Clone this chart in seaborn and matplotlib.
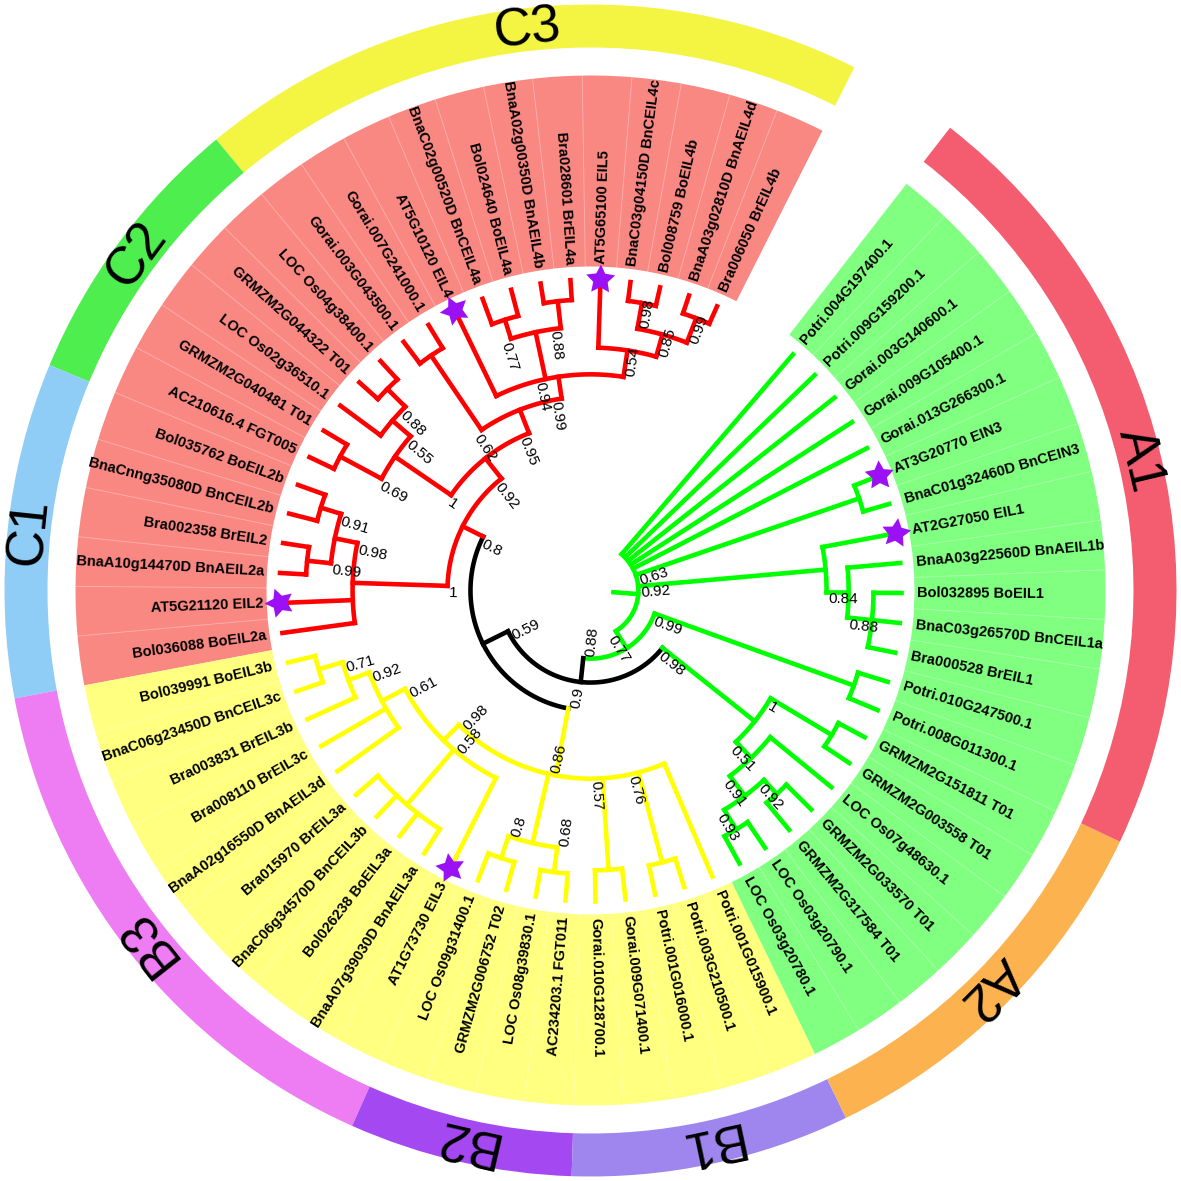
import numpy as np
import pandas as pd
import matplotlib
matplotlib.use("Agg")
import matplotlib.pyplot as plt
from matplotlib.patches import Wedge
import seaborn as sns

# ---------------- data ----------------
leaf_names = [
    "Bra006050 BrEIL4b", "BnaA03g02810D BnAEIL4d", "Bol008759 BoEIL4b", "BnaC03g04150D BnCEIL4c",
    "AT5G65100 EIL5", "Bra028601 BrEIL4a", "BnaA02g00350D BnAEIL4b", "Bol024640 BoEIL4a",
    "BnaC02g00520D BnCEIL4a", "AT5G10120 EIL4", "Gorai.007G241000.1", "Gorai.003G043500.1",
    "LOC Os04g38400.1", "GRMZM2G044322 T01", "LOC Os02g36510.1", "GRMZM2G040481 T01",
    "AC210616.4 FGT005", "Bol035762 BoEIL2b", "BnaCnng35080D BnCEIL2b", "Bra002358 BrEIL2",
    "BnaA10g14470D BnAEIL2a", "AT5G21120 EIL2", "Bol036088 BoEIL2a",
    "Bol039991 BoEIL3b", "BnaC06g23450D BnCEIL3c", "Bra003831 BrEIL3b", "Bra008110 BrEIL3c",
    "BnaA02g16550D BnAEIL3d", "Bra015970 BrEIL3a", "BnaC06g34570D BnCEIL3b", "Bol026238 BoEIL3a",
    "BnaA07g39030D BnAEIL3a", "AT1G73730 EIL3", "LOC Os09g31400.1", "GRMZM2G006752 T02",
    "LOC Os08g39830.1", "AC234203.1 FGT011", "Gorai.010G128700.1", "Gorai.009G071400.1",
    "Potri.001G016000.1", "Potri.003G210500.1", "Potri.001G015900.1",
    "LOC Os03g20780.1", "LOC Os03g20790.1", "GRMZM2G317584 T01", "GRMZM2G033570 T01",
    "LOC Os07g48630.1", "GRMZM2G003558 T01", "GRMZM2G151811 T01", "Potri.008G011300.1",
    "Potri.010G247500.1", "Bra000528 BrEIL1", "BnaC03g26570D BnCEIL1a", "Bol032895 BoEIL1",
    "BnaA03g22560D BnAEIL1b", "AT2G27050 EIL1", "BnaC01g32460D BnCEIN3", "AT3G20770 EIN3",
    "Gorai.013G266300.1", "Gorai.009G105400.1", "Gorai.003G140600.1", "Potri.009G159200.1",
    "Potri.004G197400.1",
]
# internal node that each leaf hangs from
leaf_parent = [10, 10, 11, 11, 8, 13, 13, 14, 14, 7, 15, 15, 18, 18, 17, 19, 19, 22, 22, 23, 23, 20, 20,
               28, 28, 27, 26, 26, 29, 29, 29, 29, 25, 31, 31, 32, 32, 33, 33, 34, 34, 24,
               38, 38, 39, 39, 36, 40, 40, 41, 41, 44, 44, 44, 43, 42, 45, 45, 0, 0, 0, 0, 0]
# internal nodes (0 = root)
node_parent = [-1, 0, 1, 2, 3, 4, 5, 6, 7, 8, 9, 9, 7, 12, 12, 6, 5, 16, 17, 16, 4, 20, 21, 21,
               3, 24, 25, 26, 27, 25, 24, 30, 30, 24, 24, 2, 35, 36, 37, 37, 35, 1, 0, 42, 43, 0]
node_depth = [15.4, 21.9, 29.6, 38.6, 46.0, 54.3, 62.4, 69.5, 78.1, 85.5, 93.9, 93.9, 84.9, 93.6,
              91.3, 91.3, 76.2, 83.9, 92.0, 91.3, 76.5, 83.9, 90.7, 91.6, 60.5, 67.5, 75.9, 83.0,
              91.0, 90.7, 83.3, 90.7, 91.3, 90.0, 90.4, 67.5, 74.6, 82.6, 90.0, 88.7, 90.4, 90.0,
              75.9, 83.0, 91.0, 91.3]
node_support = ["", "0.77", "0.88", "0.59", "0.8", "0.92", "0.95", "0.99", "0.54", "0.85", "0.99",
                "0.98", "0.94", "0.88", "0.77", "0.62", "1", "0.55", "0.88", "0.69", "1", "0.98",
                "0.91", "0.99", "0.9", "0.98", "0.61", "0.92", "0.71", "0.58", "0.86", "0.8", "0.68",
                "0.57", "0.76", "0.98", "0.51", "0.91", "0.93", "0.92", "1", "0.99", "0.92", "0.84",
                "0.88", "0.63"]
node_clade = ["A", "A", "K", "K"] + ["C"] * 20 + ["B"] * 11 + ["A"] * 11
root_stub_depth = 7.4

star_leaves = [5, 10, 22, 33, 56, 58]

band_clade = ["C", "B", "A"]
band_first = [1, 24, 43]
band_last = [23, 42, 63]

group_names = ["C3", "C2", "C1", "B3", "B2", "B1", "A2", "A1"]
group_first = [1, 13, 18, 24, 34, 38, 43, 50]
group_last = [12, 17, 23, 33, 37, 42, 49, 63]
group_colors = ["#F4F442", "#4DEE4D", "#8FCDF6", "#EE7DF4", "#A449F2", "#9E86EE", "#FCB24E", "#F45C70"]

branch_colors = {"A": "#00FF00", "B": "#FFFF00", "C": "#FF0000", "K": "black"}
band_colors = {"A": "#80FF80", "B": "#FFFF80", "C": "#F98883"}

# ---------------- layout ----------------
sns.set_theme(style="white")
plt.rcParams["font.family"] = ["Liberation Sans", "DejaVu Sans"]

STEP = 360 / 65
START = 66
R_TIP = 311
R_LAB = 324
R_BAND = 515
R_RING_IN, R_RING_OUT = 543, 586
LW = 3.3


def rad(d):
    return d / 100 * R_TIP


def xy(r, a):
    t = np.deg2rad(a)
    return r * np.cos(t), r * np.sin(t)


n_leaf = len(leaf_names)
n_node = len(node_parent)
leaf_ang = START + STEP * np.arange(n_leaf)

kids = {k: [] for k in range(n_node)}
for j, p in enumerate(leaf_parent):
    kids[p].append(("leaf", j))
for k, p in enumerate(node_parent):
    if p >= 0:
        kids[p].append(("node", k))

node_ang = np.zeros(n_node)
node_span = np.zeros((n_node, 2))


def get_ang(kind, i):
    if kind == "leaf":
        return leaf_ang[i]
    a = [get_ang(*c) for c in kids[i]]
    node_span[i] = min(a), max(a)
    node_ang[i] = (min(a) + max(a)) / 2
    return node_ang[i]


get_ang("node", 0)

fig = plt.figure(figsize=(11.81, 11.81), dpi=100)
ax = fig.add_axes([0, 0, 1, 1])

# label backgrounds, with faint separators between leaves
for c, f, l in zip(band_clade, band_first, band_last):
    a0 = leaf_ang[f - 1] - STEP / 2
    a1 = leaf_ang[l - 1] + STEP / 2
    ax.add_patch(Wedge((0, 0), R_BAND, a0, a1, width=R_BAND - R_LAB,
                       facecolor=band_colors[c], edgecolor="none", lw=0))
    for j in range(f - 1, l - 1):
        a = leaf_ang[j] + STEP / 2
        x, y = xy(np.array([R_LAB, R_BAND]), a)
        ax.plot(x, y, color="white", lw=0.6, alpha=0.35, zorder=1)

# outer ring
for name, f, l, col in zip(group_names, group_first, group_last, group_colors):
    a0 = leaf_ang[f - 1] - STEP / 2
    a1 = leaf_ang[l - 1] + STEP / 2
    ax.add_patch(Wedge((0, 0), R_RING_OUT, a0, a1, width=R_RING_OUT - R_RING_IN,
                       facecolor=col, edgecolor="none", lw=0))
    mid = (a0 + a1) / 2
    x, y = xy((R_RING_IN + R_RING_OUT) / 2, mid)
    ax.text(x, y, name, rotation=mid - 90, rotation_mode="anchor", ha="center", va="center",
            fontsize=38, color="black")


def radial(a, r0, r1, c):
    x0, y0 = xy(r0, a)
    x1, y1 = xy(r1, a)
    ax.plot([x0, x1], [y0, y1], color=c, lw=LW, solid_capstyle="projecting", zorder=3)


def arc(r, a0, a1, c):
    t = np.linspace(a0, a1, max(2, int(abs(a1 - a0) * 3)))
    x, y = xy(r, t)
    ax.plot(x, y, color=c, lw=LW, solid_capstyle="projecting", zorder=3)


# branches
radial(node_ang[0], rad(root_stub_depth), rad(node_depth[0]), branch_colors[node_clade[0]])
for k in range(n_node):
    c = branch_colors[node_clade[k]]
    p = node_parent[k]
    if p >= 0:
        radial(node_ang[k], rad(node_depth[p]), rad(node_depth[k]), c)
    arc(rad(node_depth[k]), node_span[k][0], node_span[k][1], c)
for j, p in enumerate(leaf_parent):
    radial(leaf_ang[j], rad(node_depth[p]), R_TIP, branch_colors[node_clade[p]])

# support values at the base of each branch
for k in range(1, n_node):
    p = node_parent[k]
    a = node_ang[k] % 360
    left = 90 < a < 270
    r0 = rad(node_depth[p]) + (-2 if left else 2)
    x, y = xy(r0, a)
    ax.text(x, y, node_support[k], rotation=a - 180 if left else a, rotation_mode="anchor",
            ha="left", va="top", fontsize=11, color="black", zorder=4)

# leaf labels
for j in range(n_leaf):
    a = leaf_ang[j] % 360
    left = 90 < a < 270
    x, y = xy(R_LAB + 3, a)
    ax.text(x, y, leaf_names[j], rotation=a - 180 if left else a, rotation_mode="anchor",
            ha="right" if left else "left", va="center", fontsize=10.5, fontweight="bold",
            color="black", zorder=4)

# stars on Arabidopsis genes
stars = pd.DataFrame({"leaf": star_leaves})
stars["ang"] = leaf_ang[stars["leaf"] - 1]
stars["x"] = R_TIP * np.cos(np.deg2rad(stars["ang"]))
stars["y"] = R_TIP * np.sin(np.deg2rad(stars["ang"]))
star_markers = {l: (5, 1, a - 90) for l, a in zip(stars["leaf"], stars["ang"])}
sns.scatterplot(data=stars, x="x", y="y", style="leaf", markers=star_markers, s=480,
                color="#9B10F5", linewidth=0, legend=False, ax=ax, zorder=5)

ax.set_xlim(-590.5, 590.5)
ax.set_ylim(-590.5, 590.5)
ax.set_aspect("equal")
ax.axis("off")
fig.savefig("out.png", dpi=100, facecolor="white")
